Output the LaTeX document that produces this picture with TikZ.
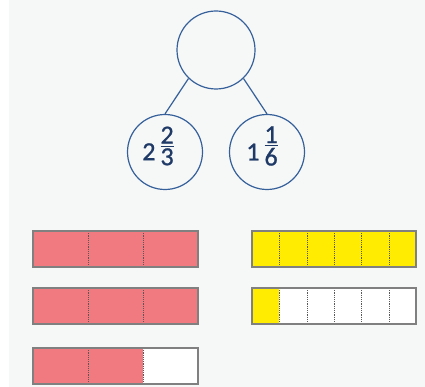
\documentclass[tikz,border=0pt]{standalone}
\usepackage{fontspec}
\setmainfont{Carlito}
\newfontfamily\bondfont[FakeBold=1]{Carlito}
\usetikzlibrary{positioning}

\definecolor{bgrey}{HTML}{F6F7F7}
\definecolor{ringblue}{HTML}{35609A}
\definecolor{numblue}{HTML}{1F3A66}
\definecolor{barpink}{HTML}{F07A80}
\definecolor{baryellow}{HTML}{FFEC00}
\definecolor{barline}{HTML}{808080}

\tikzset{
  ring/.style={circle,draw=ringblue,line width=1.2pt,inner sep=0pt},
  numtext/.style={text=numblue,inner sep=0pt,font=\bondfont\fontsize{26}{30}\selectfont},
  link/.style={draw=ringblue,line width=1.2pt},
  barbox/.style={draw=barline,line width=1.1pt},
  divider/.style={draw=black!65,line width=1pt,dash pattern=on 1.2pt off 1pt}
}

\newcommand{\mixfrac}[3]{#1\kern5pt\raisebox{-5pt}{\vbox{\offinterlineskip
  \hbox{#2}\kern2pt\hrule height0.8pt\kern2pt\hbox{#3}}}}

\begin{document}
\begin{tikzpicture}[x=1pt,y=-1pt]
  % background
  \useasboundingbox (0,0) rectangle (425,387);
  \fill[bgrey] (9,0) rectangle (425,387);

  % number bond
  \node[ring,minimum size=78pt] (whole) at (216,50) {};
  \node[ring,minimum size=75pt] (partA) at (165,152) {};
  \node[ring,minimum size=75pt] (partB) at (267,152) {};
  \node[numtext] (partAtext) at (158,146) {\mixfrac{2}{2}{3}};
  \node[numtext] (partBtext) at (262,146) {\mixfrac{1}{1}{6}};
  \draw[link] (whole.226) -- (partA.north);
  \draw[link] (whole.314) -- (partB.north);

  % thirds
  \fill[barpink] (33,231) rectangle (198,267);
  \fill[barpink] (33,288) rectangle (198,324);
  \fill[white] (33,348) rectangle (198,384);
  \fill[barpink] (33,348) rectangle (143,384);
  \foreach \y in {231,288,348} {
    \foreach \x in {88,143}
      \draw[divider] (\x,\y) -- (\x,\y+36);
    \draw[barbox] (33,\y) rectangle (198,\y+36);
  }

  % sixths
  \fill[baryellow] (252,231) rectangle (416,267);
  \fill[white] (252,288) rectangle (416,324);
  \fill[baryellow] (252,288) rectangle (279,324);
  \foreach \y in {231,288} {
    \foreach \x in {279,307,334,361,389}
      \draw[divider] (\x,\y) -- (\x,\y+36);
    \draw[barbox] (252,\y) rectangle (416,\y+36);
  }
\end{tikzpicture}
\end{document}
